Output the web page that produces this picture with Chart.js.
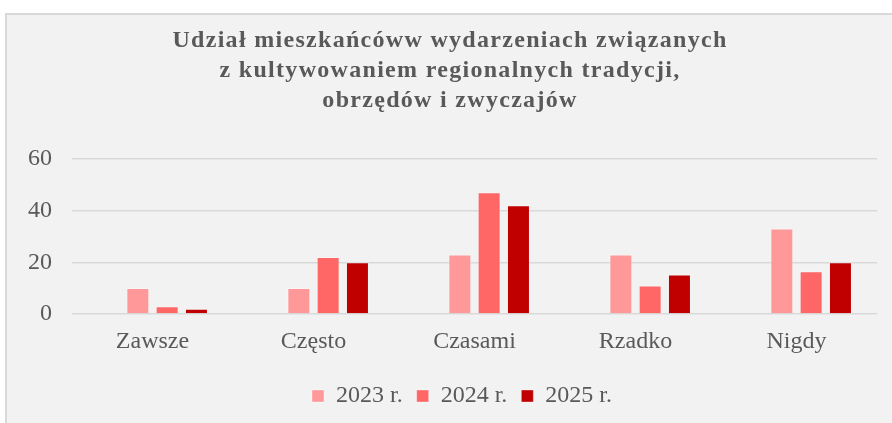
<!DOCTYPE html>
<html lang="pl">
<head>
  <meta charset="UTF-8">
  <title>Udział mieszkańców w wydarzeniach</title>
  <style>
    body {
      margin: 0;
      background: #ffffff;
      overflow: hidden;
    }
    /* szary panel wykresu */
    .panel {
      position: absolute;
      left: 5px;
      top: 13px;
      width: 893px;
      height: 420px;
      background: #f2f2f2;
      border: 2px solid #d9d9d9;
    }
  </style>
</head>
<body>

<div class="panel">
  <canvas id="udzialChart"></canvas>
</div>

<script src="https://cdn.jsdelivr.net/npm/chart.js"></script>
<script>
  const kategorie = ['Zawsze', 'Często', 'Czasami', 'Rzadko', 'Nigdy'];
  const tytul = [
    'Udział mieszkańcóww wydarzeniach związanych',
    'z kultywowaniem regionalnych tradycji,',
    'obrzędów i zwyczajów'
  ];
  // pusta seria - w oryginale zajmuje pierwsze miejsce w grupie
  const pusta = [null, null, null, null, null];
  const rok2023 = [10, 10, 23, 23, 33];
  const rok2024 = [3, 22, 47, 11, 16.5];
  const rok2025 = [2, 20, 42, 15.3, 20];
  const osY = [0, 20, 40, 60];

  const szary = '#595959';
  const czcionka = "'Liberation Serif', 'Times New Roman', serif";

  // Excel centruje tytuł i legendę trochę inaczej, do tego szerszy tytuł
  const przesuniecie = {
    id: 'przesuniecie',
    afterLayout(chart) {
      chart.legend.left += 39;
      chart.titleBlock.left += 15;
      const tb = chart.titleBlock;
      if (!tb._rozstrzelony) {
        const rysuj = tb.draw.bind(tb);
        tb.draw = function () {
          const c = this.ctx;
          const poprz = c.letterSpacing;
          c.letterSpacing = '1.3px';
          rysuj();
          c.letterSpacing = poprz;
        };
        tb._rozstrzelony = true;
      }
    }
  };

  const ctx = document.getElementById('udzialChart').getContext('2d');

  new Chart(ctx, {
    type: 'bar',
    data: {
      labels: kategorie,
      datasets: [
        { label: '', data: pusta, backgroundColor: 'transparent' },
        { label: '2023 r.', data: rok2023, backgroundColor: '#ff9999' },
        { label: '2024 r.', data: rok2024, backgroundColor: '#ff6666' },
        { label: '2025 r.', data: rok2025, backgroundColor: '#c00000' }
      ].map(ds => Object.assign(ds, {
        borderColor: 'rgba(255,255,255,0.35)',
        borderWidth: 1,
        categoryPercentage: 0.728,
        barPercentage: 0.785
      }))
    },
    options: {
      responsive: true,
      maintainAspectRatio: false,
      animation: false,
      layout: {
        padding: { left: 1, right: 23, top: 0, bottom: 17 }
      },
      plugins: {
        title: {
          display: true,
          text: tytul,
          color: szary,
          font: { family: czcionka, size: 24, weight: 'bold', lineHeight: 1.25 },
          padding: { top: 11, bottom: 42.7 }
        },
        legend: {
          position: 'bottom',
          labels: {
            color: szary,
            font: { family: czcionka, size: 24 },
            boxWidth: 12,
            boxHeight: 12,
            padding: 14,
            filter: item => item.text !== ''
          }
        },
        tooltip: { enabled: false }
      },
      scales: {
        x: {
          grid: { display: false, drawTicks: false },
          border: { display: false },
          ticks: {
            color: szary,
            font: { family: czcionka, size: 24 },
            padding: 13.6
          }
        },
        y: {
          min: 0,
          max: 60,
          afterBuildTicks: scale => {
            scale.ticks = osY.map(v => ({ value: v }));
          },
          grid: { color: '#d9d9d9', lineWidth: 1.4, drawTicks: false },
          border: { display: false },
          ticks: {
            color: szary,
            font: { family: czcionka, size: 24 },
            padding: 20
          }
        }
      }
    },
    plugins: [przesuniecie]
  });
</script>

</body>
</html>
